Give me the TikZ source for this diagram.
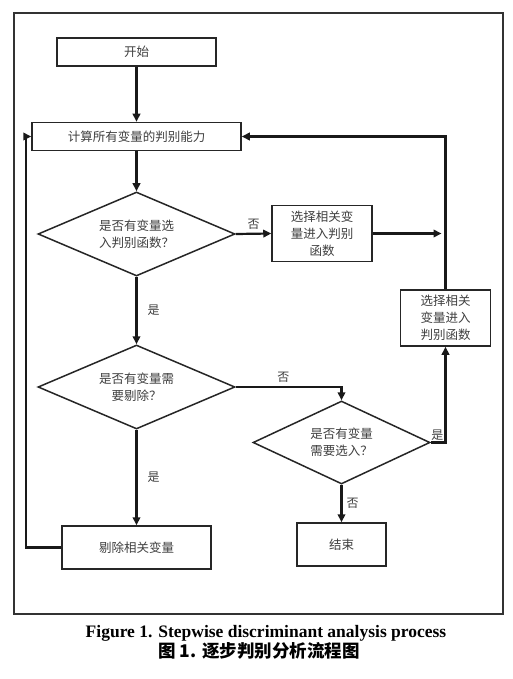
\documentclass[tikz,border=0pt]{standalone}
\usepackage{fontspec}
\setmainfont{Liberation Serif}
\newfontfamily\cjk{Noto Sans CJK SC}
\usetikzlibrary{shapes.geometric,arrows.meta}
\begin{document}
\begin{tikzpicture}[x=1pt,y=-1pt,
  box/.style={draw=black!85, line width=1.5pt, fill=white, inner sep=0pt, align=center,
    font=\cjk\fontsize{12.5}{17}\selectfont, text=black!75},
  dia/.style={diamond, shape aspect=2.4, draw=black!85, line width=1.5pt, fill=white, inner sep=0pt,
    align=center, font=\cjk\fontsize{12.5}{17}\selectfont, text=black!75},
  arr/.style={draw=black!90, line width=2.2pt, -{Triangle[length=8pt,width=7.5pt]}},
  lab/.style={font=\cjk\fontsize{12}{14}\selectfont, text=black!75, inner sep=1pt}
]
\useasboundingbox (0,0) rectangle (512,679);
\fill[white] (0,0) rectangle (512,679);
\draw[line width=1.5pt, black!80] (14,13) rectangle (503,614);

\node[box, minimum width=159pt, minimum height=28pt] (start) at (136.5,52) {开始};
\node[box, minimum width=209pt, minimum height=28pt] (calc) at (136.5,136.5) {计算所有变量的判别能力};
\node[dia, minimum width=197pt, minimum height=84pt] (d1) at (136.5,234) {是否有变量选\\入判别函数？};
\node[box, minimum width=100pt, minimum height=56pt] (A) at (322,233.5) {选择相关变\\量进入判别\\函数};
\node[box, minimum width=90pt, minimum height=56pt] (B) at (445.5,318) {选择相关\\变量进入\\判别函数};
\node[dia, minimum width=197pt, minimum height=84pt] (d2) at (136.5,387) {是否有变量需\\要剔除？};
\node[dia, minimum width=177pt, minimum height=83pt] (d3) at (341.5,442.5) {是否有变量\\需要选入？};
\node[box, minimum width=89pt, minimum height=43pt] (end) at (341.5,544.5) {结束};
\node[box, minimum width=149pt, minimum height=43pt] (rm) at (136.5,547.5) {剔除相关变量};

\draw[arr] (start) -- (calc);
\draw[arr] (calc) -- (d1);
\draw[arr] (d1.east) -- node[lab, above=2pt] {否} (A.west);
\coordinate (j) at (B.north |- A.east);
\draw[arr, shorten >=4pt] (A.east) -- (j);
\draw[arr] (B.north) -- (B.north |- calc.east) -- (calc.east);
\draw[arr] (d1.south) -- node[lab, right=9pt] {是} (d2.north);
\draw[arr] (d2.east) -- node[lab, above=2pt, pos=0.45] {否} (d3.north |- d2.east) -- (d3.north);
\draw[arr] (d3.east) -- (B.south |- d3.east) node[lab, anchor=south east] {是} -- (B.south);
\draw[arr] (d3.south) -- node[lab, right=3pt] {否} (end.north);
\draw[arr] (d2.south) -- node[lab, right=9pt] {是} (rm.north);
\coordinate (lx) at (26,0);
\draw[arr] (rm.west) -- (lx |- rm.west) -- (lx |- calc.west) -- (calc.west);

\node[font=\bfseries\fontsize{17.5}{20}\selectfont, inner sep=0pt] (cap1) at (266,633) {Figure 1. Stepwise discriminant analysis process};
\node[font=\cjk\bfseries\fontsize{17.5}{20}\selectfont, inner sep=0pt] (cap2) at (259,651) {图 1. 逐步判别分析流程图};
\end{tikzpicture}
\end{document}
